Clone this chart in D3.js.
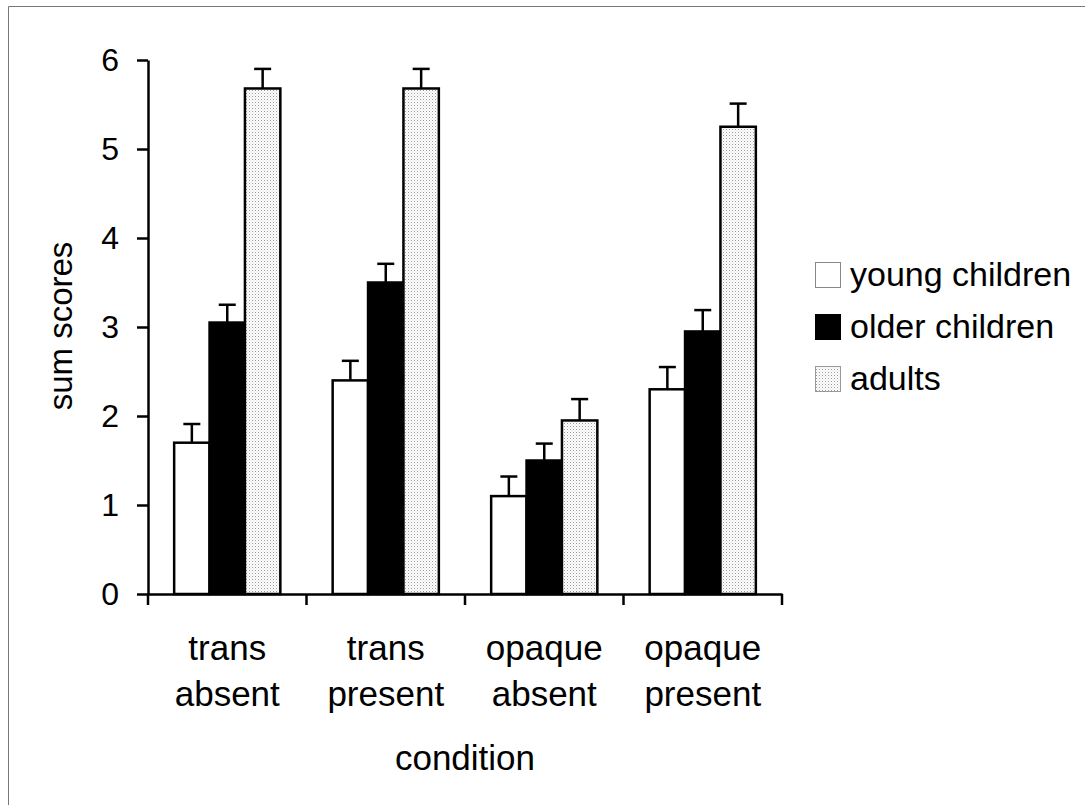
<!DOCTYPE html>
<html>
<head>
<meta charset="utf-8">
<script src="https://cdn.jsdelivr.net/npm/d3@7/dist/d3.min.js"></script>
<style>
  html, body { margin: 0; padding: 0; background: #fff; }
  svg { display: block; }
  text { font-family: "Liberation Sans", Arial, sans-serif; fill: #000; }
</style>
</head>
<body>
<svg id="chart" width="1085" height="805"></svg>
<script>
// ---- data ----
const categories = [["trans", "absent"], ["trans", "present"], ["opaque", "absent"], ["opaque", "present"]];
const seriesNames = ["young children", "older children", "adults"];
const youngValues = [1.70, 2.40, 1.10, 2.30];
const olderValues = [3.05, 3.50, 1.50, 2.95];
const adultValues = [5.68, 5.68, 1.95, 5.25];
const youngErrors = [0.21, 0.22, 0.22, 0.25];
const olderErrors = [0.20, 0.21, 0.19, 0.24];
const adultErrors = [0.22, 0.22, 0.24, 0.26];
const yTicks = [0, 1, 2, 3, 4, 5, 6];
const yTitle = "sum scores";
const xTitle = "condition";

const seriesValues = [youngValues, olderValues, adultValues];
const seriesErrors = [youngErrors, olderErrors, adultErrors];
const catKeys = categories.map(c => c.join(" "));

const svg = d3.select("#chart");

// pattern for adults
const defs = svg.append("defs");
const pat = defs.append("pattern").attr("id", "dots").attr("patternUnits", "userSpaceOnUse")
  .attr("width", 3).attr("height", 3);
pat.append("rect").attr("width", 3).attr("height", 3).attr("fill", "#fff");
pat.append("rect").attr("x", 0).attr("y", 0).attr("width", 1).attr("height", 1).attr("fill", "#9a9a9a");
pat.append("rect").attr("x", 1.5).attr("y", 1.5).attr("width", 1).attr("height", 1).attr("fill", "#c8c8c8");

const fills = ["#ffffff", "#000000", "url(#dots)"];

// frame (top & left visible)
svg.append("line").attr("x1", 8.5).attr("y1", 6.5).attr("x2", 1085).attr("y2", 6.5).attr("stroke", "#777").attr("stroke-width", 1);
svg.append("line").attr("x1", 8.5).attr("y1", 6.5).attr("x2", 8.5).attr("y2", 805).attr("stroke", "#777").attr("stroke-width", 1);

const x0 = 148, x1 = 782, yTop = 60, yBot = 594;
const x = d3.scaleBand().domain(catKeys).range([x0, x1]).paddingInner(0.33).paddingOuter(0.165);
const xs = d3.scaleBand().domain(seriesNames).range([0, x.bandwidth()]);
const y = d3.scaleLinear().domain([0, 6]).range([yBot, yTop]);

// bars
const g = svg.append("g");
seriesNames.forEach((s, si) => {
  const vals = seriesValues[si], errs = seriesErrors[si];
  // error bars
  catKeys.forEach((k, ci) => {
    const cx = x(k) + xs(s) + xs.bandwidth() / 2;
    g.append("line").attr("x1", cx).attr("x2", cx)
      .attr("y1", y(vals[ci])).attr("y2", y(vals[ci] + errs[ci]))
      .attr("stroke", "#000").attr("stroke-width", 2.5);
    g.append("line").attr("x1", cx - 8.5).attr("x2", cx + 8.5)
      .attr("y1", y(vals[ci] + errs[ci])).attr("y2", y(vals[ci] + errs[ci]))
      .attr("stroke", "#000").attr("stroke-width", 2.5);
  });
});
seriesNames.forEach((s, si) => {
  const vals = seriesValues[si];
  g.selectAll(null).data(catKeys).enter().append("rect")
    .attr("x", k => x(k) + xs(s))
    .attr("y", (k, i) => y(vals[i]))
    .attr("width", xs.bandwidth())
    .attr("height", (k, i) => y(0) - y(vals[i]))
    .attr("fill", fills[si])
    .attr("stroke", "#000").attr("stroke-width", 2.5);
});

// y axis
const yAxis = d3.axisLeft(y).tickValues(yTicks).tickFormat(d3.format("d")).tickSize(11).tickSizeOuter(0).tickPadding(18);
const ya = svg.append("g").attr("transform", `translate(${x0},0)`).call(yAxis);
ya.select(".domain").attr("stroke", "#000").attr("stroke-width", 2.5);
ya.selectAll(".tick line").attr("stroke", "#000").attr("stroke-width", 2.5);
ya.selectAll(".tick text").attr("font-size", 32).attr("font-family", "Liberation Sans, Arial, sans-serif").attr("fill", "#000");

// x axis
const xAxis = d3.axisBottom(x).tickSize(0).tickSizeOuter(0).tickFormat("");
const xa = svg.append("g").attr("transform", `translate(0,${yBot})`).call(xAxis);
xa.select(".domain").attr("stroke", "#000").attr("stroke-width", 2.5);
// boundary ticks
const bounds = catKeys.map(k => x(k) - x.step() * x.paddingInner() / 2).concat([x(catKeys[catKeys.length - 1]) + x.bandwidth() + x.step() * x.paddingInner() / 2]);
xa.selectAll(".bt").data(bounds).enter().append("line").attr("class", "bt")
  .attr("x1", d => d).attr("x2", d => d).attr("y1", 0).attr("y2", 11)
  .attr("stroke", "#000").attr("stroke-width", 2.5);

// category labels
catKeys.forEach((k, i) => {
  const t = svg.append("text").attr("text-anchor", "middle").attr("font-size", 35)
    .attr("x", x(k) + x.bandwidth() / 2).attr("y", 660);
  t.append("tspan").attr("x", x(k) + x.bandwidth() / 2).attr("dy", 0).text(categories[i][0]);
  t.append("tspan").attr("x", x(k) + x.bandwidth() / 2).attr("dy", 46).text(categories[i][1]);
});

// axis titles
svg.append("text").attr("text-anchor", "middle").attr("font-size", 35)
  .attr("x", (x0 + x1) / 2).attr("y", 770).text(xTitle);
svg.append("text").attr("text-anchor", "middle").attr("font-size", 33)
  .attr("transform", `translate(72,${(yTop + yBot) / 2 - 1}) rotate(-90)`).text(yTitle);

// legend
const legFills = ["#ffffff", "#000000", "url(#dots)"];
const legStroke = ["#888", "#000", "#999"];
seriesNames.forEach((s, i) => {
  const ly = 262 + i * 52;
  svg.append("rect").attr("x", 815.5).attr("y", ly + 0.5).attr("width", 25).attr("height", 25)
    .attr("fill", legFills[i]).attr("stroke", legStroke[i]).attr("stroke-width", 1);
  svg.append("text").attr("x", 850).attr("y", ly + 24).attr("font-size", 34).text(s);
});
</script>
</body>
</html>
